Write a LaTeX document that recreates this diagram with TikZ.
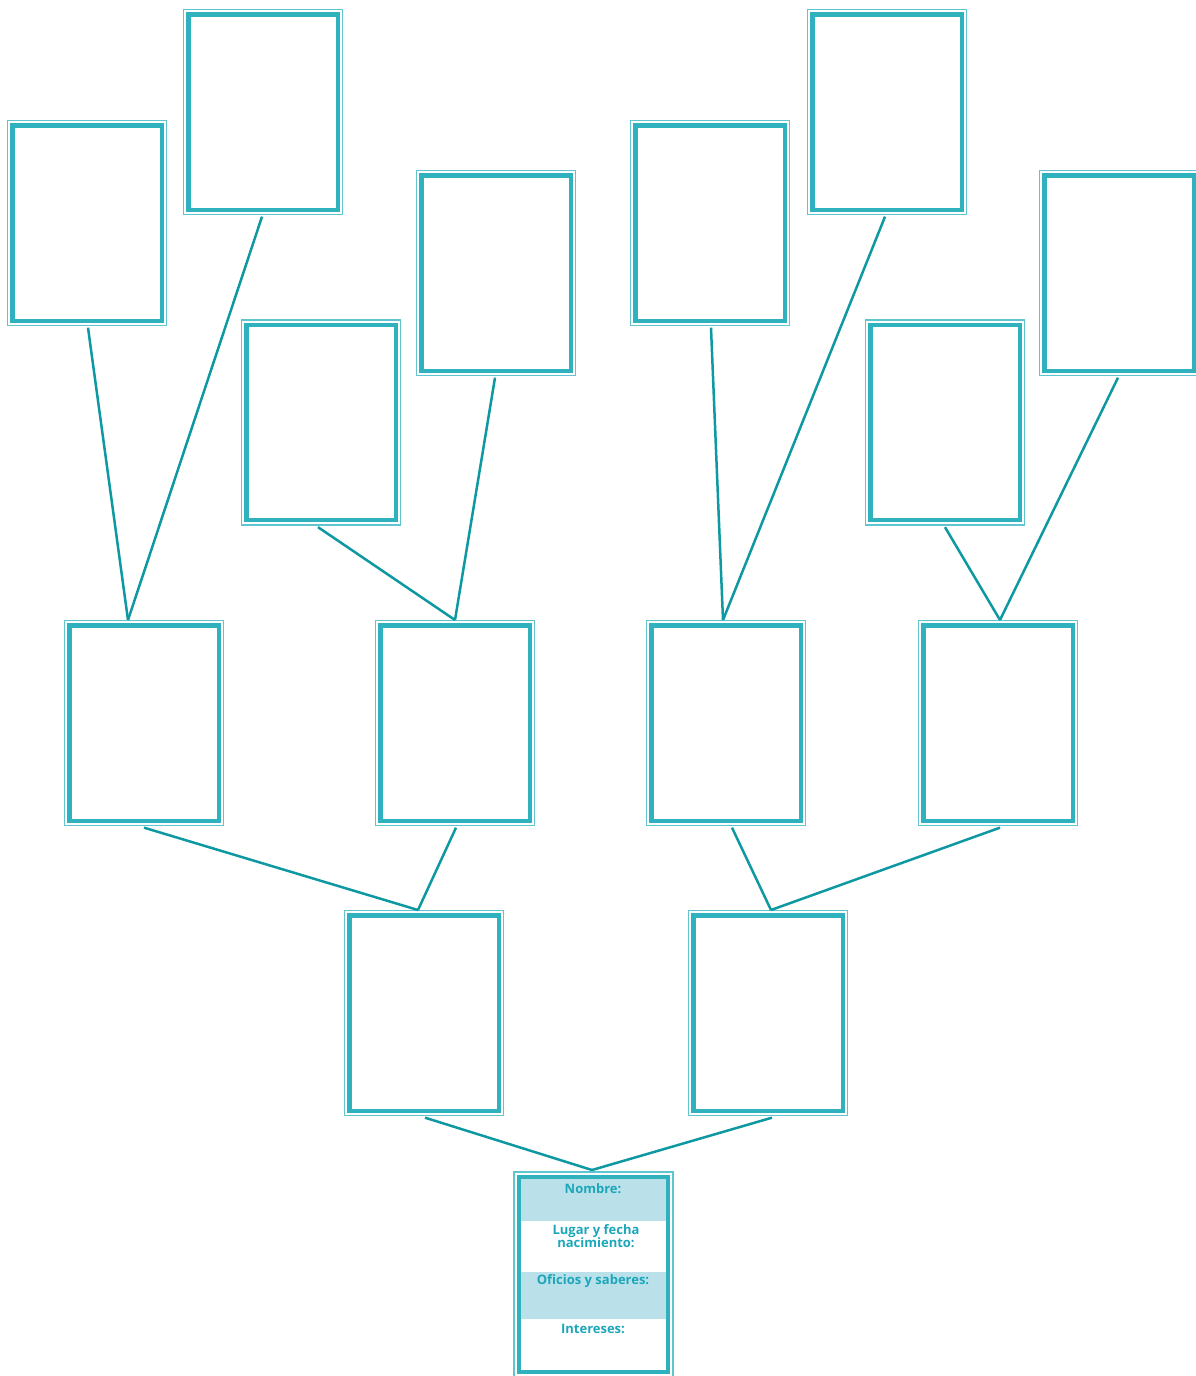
\documentclass[tikz,border=0pt]{standalone}
\usepackage{fontspec}
\setmainfont{Open Sans}
\definecolor{thinc}{RGB}{95,198,208}
\definecolor{thickc}{RGB}{48,178,190}
\definecolor{linkc}{RGB}{14,152,162}
\definecolor{bandc}{RGB}{186,225,234}
\definecolor{txtc}{RGB}{28,166,186}
\tikzset{
  fam/.style={rectangle, draw=thinc, line width=1.3pt, minimum width=159pt, minimum height=205pt, inner sep=0pt},
  inner/.style={draw=thickc, line width=4.3pt},
  link/.style={draw=linkc, line width=2.5pt},
  lbl/.style={text=txtc, font=\fontsize{13}{13}\selectfont\bfseries, anchor=base, inner sep=0pt}
}
\begin{document}
\begin{tikzpicture}[x=1pt,y=-1pt]
\useasboundingbox (0,0) rectangle (1196,1376);
% generation 4
\node[fam] (A) at (87,223) {};
\node[fam] (B) at (263,112) {};
\node[fam] (C) at (321,422.5) {};
\node[fam] (D) at (496,273) {};
\node[fam] (E) at (710,223) {};
\node[fam] (F) at (887,112) {};
\node[fam] (G) at (945,422.5) {};
\node[fam] (H) at (1119,273) {};
% generation 3
\node[fam] (I) at (144,723) {};
\node[fam] (J) at (455,723) {};
\node[fam] (K) at (726,723) {};
\node[fam] (L) at (998,723) {};
% generation 2
\node[fam] (M) at (424,1013) {};
\node[fam] (N) at (768,1013) {};
% ego
\node[fam] (O) at (593.5,1274.5) {};
% bands in ego box
\fill[bandc] (520,1178) rectangle (667,1221);
\fill[bandc] (520,1272) rectangle (667,1319);
% inner thick frames
\foreach \n in {A,B,C,D,E,F,G,H,I,J,K,L,M,N,O}{
  \draw[inner] ([shift={(5.5,5.5)}]\n.north west) rectangle ([shift={(-5.5,-5.5)}]\n.south east);
}
% labels
\node[lbl] (t1) at (593,1193) {Nombre:};
\node[lbl] (t2a) at (596,1234) {Lugar y fecha};
\node[lbl] (t2b) at (596,1247) {nacimiento:};
\node[lbl] (t3) at (593,1284) {Oficios y saberes:};
\node[lbl] (t4) at (593,1333) {Intereses:};
% junctions
\coordinate (jI) at (128,620);
\coordinate (jJ) at (455,620);
\coordinate (jK) at (723,620);
\coordinate (jL) at (1000,620);
\coordinate (jM) at (418,910);
\coordinate (jN) at (771,910);
\coordinate (jO) at (592,1170);
% connectors
\draw[link] ([shift={(1,1.5)}]A.south) -- (jI);
\draw[link] ([shift={(-1,1.5)}]B.south) -- (jI);
\draw[link] ([shift={(-3,1.5)}]C.south) -- (jJ);
\draw[link] ([shift={(-1,1.5)}]D.south) -- (jJ);
\draw[link] ([shift={(1,1.5)}]E.south) -- (jK);
\draw[link] ([shift={(-2,1.5)}]F.south) -- (jK);
\draw[link] ([shift={(0,1.5)}]G.south) -- (jL);
\draw[link] ([shift={(-1,1.5)}]H.south) -- (jL);
\draw[link] ([shift={(0,1.5)}]I.south) -- (jM);
\draw[link] ([shift={(1,1.5)}]J.south) -- (jM);
\draw[link] ([shift={(6,1.5)}]K.south) -- (jN);
\draw[link] ([shift={(2,1.5)}]L.south) -- (jN);
\draw[link] ([shift={(1,1.5)}]M.south) -- (jO);
\draw[link] ([shift={(4,1.5)}]N.south) -- (jO);
\end{tikzpicture}
\end{document}
